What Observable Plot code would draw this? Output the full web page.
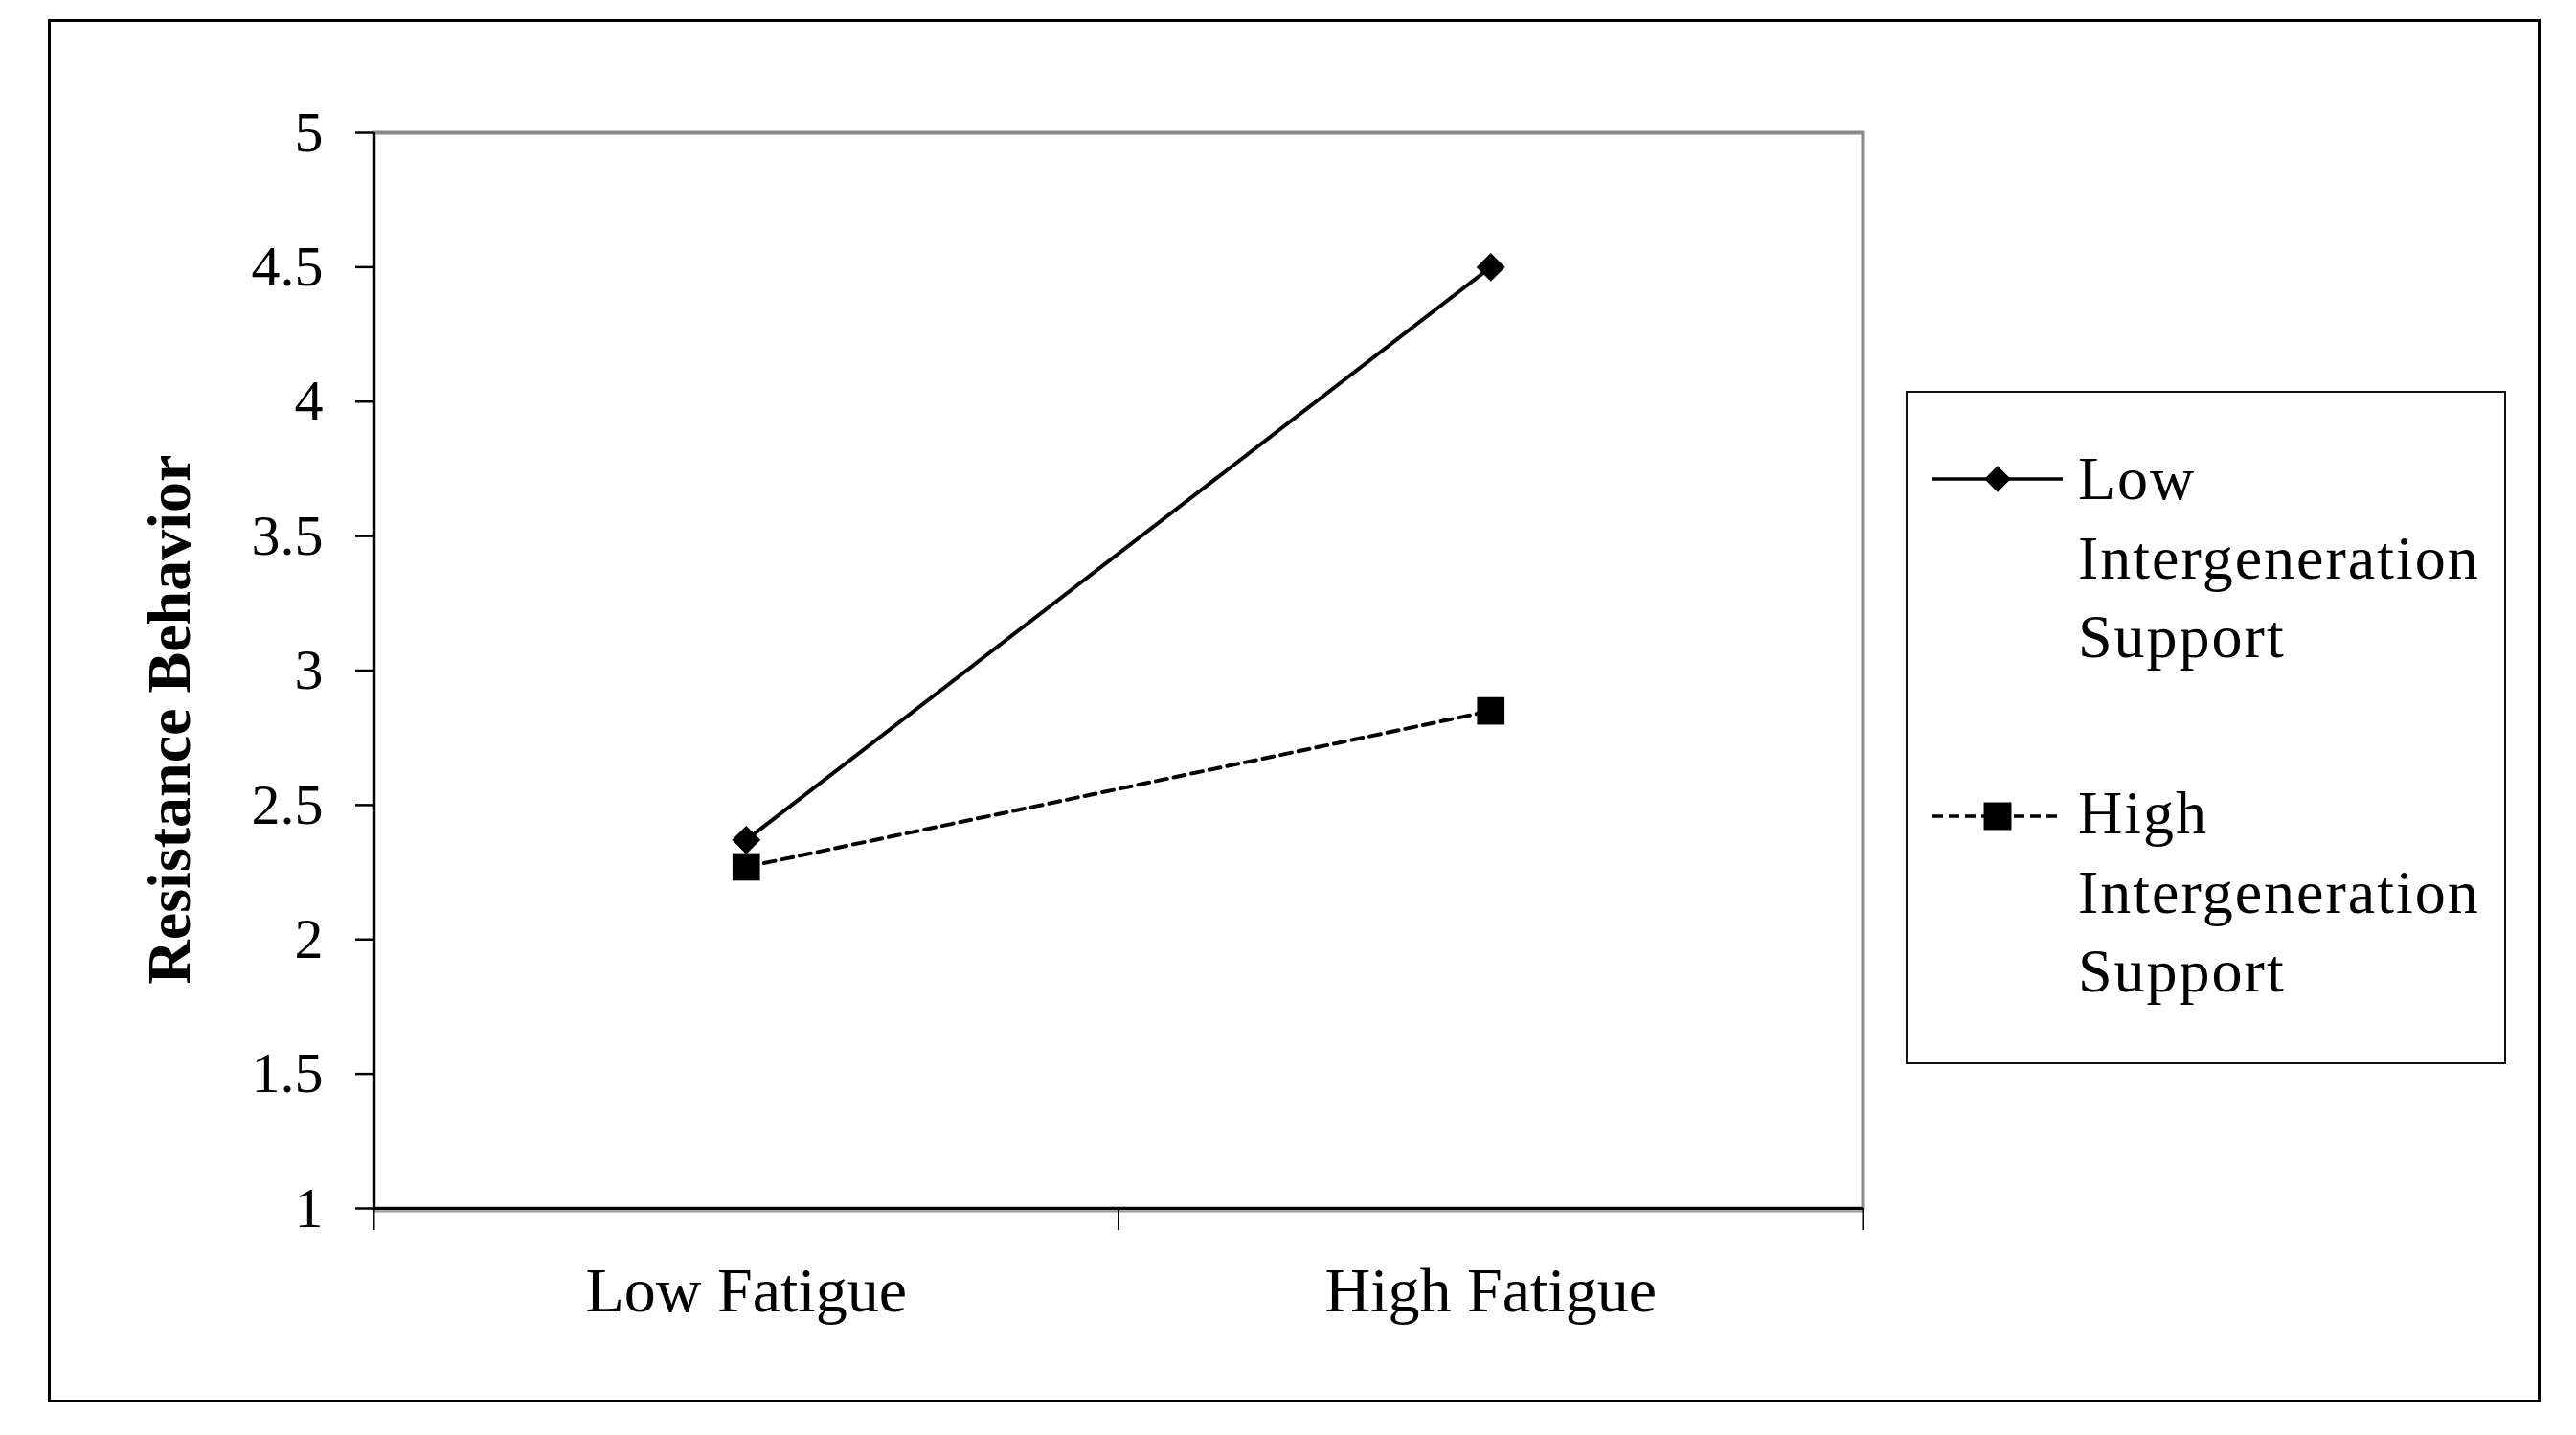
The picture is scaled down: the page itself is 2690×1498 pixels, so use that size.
<!DOCTYPE html>
<html>
<head>
<meta charset="utf-8">
<script src="https://cdn.jsdelivr.net/npm/d3@7"></script>
<script src="https://cdn.jsdelivr.net/npm/@observablehq/plot@0.6"></script>
<style>
html, body { margin: 0; padding: 0; background: #fff; }
#wrap { position: relative; width: 2690px; height: 1498px; overflow: hidden; background: #fff; }
#chart { position: absolute; left: 0; top: 0; }
#frame { position: absolute; left: 50px; top: 20px; width: 2603px; height: 1444px; box-sizing: border-box; border: 3px solid #000; pointer-events: none; }
#legend { position: absolute; left: 1990px; top: 408px; width: 627px; height: 703px; box-sizing: border-box; border: 2px solid #111; font-family: "Liberation Serif", serif; font-size: 64px; letter-spacing: 2px; color: #000; }
.lab { position: absolute; left: 178px; line-height: 82.5px; white-space: nowrap; }
.sw { position: absolute; left: 24px; overflow: visible; }
</style>
</head>
<body>
<div id="wrap">
  <div id="chart"></div>
  <div id="frame"></div>
  <div id="legend"></div>
</div>
<script>
// ---- data ----
const categories = ["Low Fatigue", "High Fatigue"];
const seriesNames = ["Low Intergeneration Support", "High Intergeneration Support"];
const lowSupport = [2.37, 4.50];
const highSupport = [2.27, 2.85];
const yTicks = [1, 1.5, 2, 2.5, 3, 3.5, 4, 4.5, 5];
const yTitle = "Resistance Behavior";

// ---- tables built from the arrays ----
const lowRows = categories.map((c, i) => ({series: seriesNames[0], cat: c, pos: i + 0.5, value: lowSupport[i]}));
const highRows = categories.map((c, i) => ({series: seriesNames[1], cat: c, pos: i + 0.5, value: highSupport[i]}));
const boundaries = d3.range(categories.length + 1);
const centers = categories.map((c, i) => i + 0.5);

const chart = Plot.plot({
  width: 2690,
  height: 1498,
  marginLeft: 390,
  marginRight: 745,
  marginTop: 138,
  marginBottom: 237,
  x: {type: "linear", domain: [0, categories.length], label: null},
  y: {domain: [1, 5], label: null},
  style: {fontFamily: "'Liberation Serif', serif", background: "transparent", color: "#000", overflow: "visible"},
  marks: [
    Plot.frame({stroke: "#8a8a8a", strokeWidth: 4}),
    Plot.ruleY([1], {stroke: "#9a9a9a", strokeWidth: 2, dy: 3}),
    Plot.ruleY([1], {stroke: "#000", strokeWidth: 3}),
    Plot.ruleX([0], {stroke: "#000", strokeWidth: 3}),
    Plot.axisY({ticks: yTicks, tickFormat: d => String(d), tickSize: 19, tickPadding: 34, fontSize: 60, strokeWidth: 2.5, label: null}),
    Plot.axisX({ticks: boundaries, tickFormat: () => "", tickSize: 23, strokeWidth: 2, label: null}),
    Plot.axisX({ticks: centers, tickFormat: d => categories[Math.round(d - 0.5)], tickSize: 0, tickPadding: 61, fontSize: 66, label: null}),
    Plot.text([yTitle], {text: d => d, frameAnchor: "left", textAnchor: "middle", lineAnchor: "middle", rotate: -90, dx: -213, dy: 51, fontSize: 64, fontWeight: "bold"}),
    Plot.line(lowRows, {x: "pos", y: "value", stroke: "#000", strokeWidth: 4}),
    Plot.line(highRows, {x: "pos", y: "value", stroke: "#000", strokeWidth: 4, strokeDasharray: "12,7"}),
    Plot.dot(lowRows, {x: "pos", y: "value", symbol: "diamond2", r: 13.5, fill: "#000", stroke: "none"}),
    Plot.dot(highRows, {x: "pos", y: "value", symbol: "square", r: 16.2, fill: "#000", stroke: "none"})
  ]
});
document.getElementById("chart").appendChild(chart);

// ---- legend ----
const legend = d3.select("#legend");
const legendItems = [
  {name: seriesNames[0], dash: null, symbol: d3.symbolDiamond2, size: 480, top: 49, lineY: 90},
  {name: seriesNames[1], dash: "11,6", symbol: d3.symbolSquare, size: 840, top: 398, lineY: 442}
];
legendItems.forEach(it => {
  const svg = legend.append("svg").attr("class", "sw")
    .attr("width", 140).attr("height", 40)
    .style("top", (it.lineY - 20) + "px");
  svg.append("line").attr("x1", 2).attr("x2", 138).attr("y1", 20).attr("y2", 20)
    .attr("stroke", "#000").attr("stroke-width", 3.5)
    .attr("stroke-dasharray", it.dash);
  svg.append("path").attr("d", d3.symbol(it.symbol, it.size)())
    .attr("transform", "translate(70,20)").attr("fill", "#000");
  const lab = legend.append("div").attr("class", "lab").style("top", it.top + "px");
  lab.html(it.name.split(" ").join("<br>"));
});
</script>
</body>
</html>
